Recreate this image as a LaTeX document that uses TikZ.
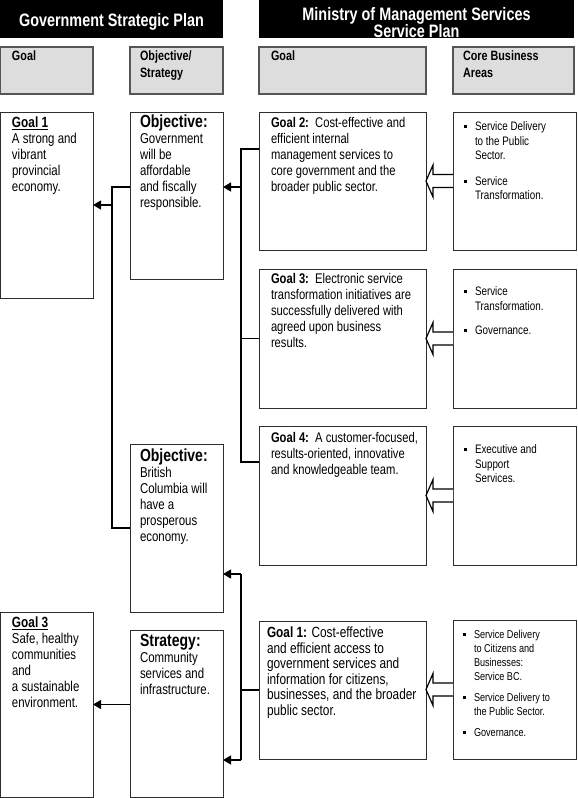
\documentclass[tikz,border=0pt]{standalone}
\usepackage{fontspec}
\setmainfont{Liberation Sans}[FakeStretch=0.8]
\usetikzlibrary{calc,arrows.meta}
\definecolor{hfill}{RGB}{221,221,221}
\definecolor{hline}{RGB}{85,85,85}
\definecolor{bline}{RGB}{45,45,45}
\newcommand\fsz[2]{\fontsize{#1}{#2}\selectfont}
\newcommand\bul{\makebox[11pt][l]{\rule[2.6pt]{3pt}{3pt}}}
\newcommand\ind{\hspace*{11pt}}
\newcommand\blockarr[2]{\draw[blk] let \p1=(#1), \p2=(#2) in
  (\x1,\y1+6.5pt) -- (\x2+7pt,\y1+6.5pt) -- (\x2+7pt,\y1+16pt) -- (\x2,\y1)
  -- (\x2+7pt,\y1-16pt) -- (\x2+7pt,\y1-6.5pt) -- (\x1,\y1-6.5pt);}
\tikzset{
  bx/.style={draw=bline, line width=1pt, fill=white, anchor=north west, inner sep=0pt, outer sep=0pt},
  hbx/.style={draw=hline, line width=1.6pt, fill=hfill, anchor=north west, inner sep=0pt, outer sep=0pt},
  ttl/.style={fill=black, anchor=north west, inner sep=0pt, outer sep=0pt},
  ttxt/.style={text=white, inner sep=0pt, outer sep=0pt, align=center, font={\fsz{18}{16.5}\bfseries}},
  txt/.style={anchor=north west, inner sep=0pt, outer sep=0pt, align=left},
  htxt/.style={txt, font={\fsz{13.5}{17}\bfseries}},
  ltxt/.style={txt, font={\fsz{14.3}{16}}},
  gtxt/.style={txt, font={\fsz{14}{16}}},
  ctxt/.style={txt, font={\fsz{12.3}{14.5}}},
  conn/.style={line width=1.3pt},
  arr/.style={conn, -{Triangle[length=8pt,width=9pt]}},
  blk/.style={draw=black, line width=1.2pt, fill=white, line join=miter},
}
\begin{document}
\begin{tikzpicture}[x=1pt,y=-1pt]
\useasboundingbox (0,0) rectangle (578,798);
% title bars
\node[ttl, minimum width=223pt, minimum height=38pt] (tl) at (0,0) {};
\node[ttl, minimum width=315pt, minimum height=38pt] (tr) at (259,0) {};
\node[ttxt] (tlt) at ($(tl.center)+(0,2.5)$) {Government Strategic Plan};
\node[ttxt] (trt) at ($(tr.center)+(0,3.5)$) {Ministry of Management Services\\Service Plan};
% gray headers
\node[hbx, minimum width=93pt, minimum height=47pt] (h1) at (0,47) {};
\node[hbx, minimum width=93pt, minimum height=47pt] (h2) at (130,47) {};
\node[hbx, minimum width=167pt, minimum height=47pt] (h3) at (259,47) {};
\node[hbx, minimum width=121pt, minimum height=47pt] (h4) at (453,47) {};
\node[htxt] (h1t) at ($(h1.north west)+(12,4)$) {Goal};
\node[htxt] (h2t) at ($(h2.north west)+(10,4)$) {Objective/\\Strategy};
\node[htxt] (h3t) at ($(h3.north west)+(12,4)$) {Goal};
\node[htxt] (h4t) at ($(h4.north west)+(10,4)$) {Core Business\\Areas};
% left column
\node[bx, minimum width=93pt, minimum height=186pt] (lg1) at (0,112) {};
\node[bx, minimum width=93pt, minimum height=167pt] (ob1) at (130,112) {};
\node[bx, minimum width=93pt, minimum height=168pt] (ob2) at (130,444) {};
\node[bx, minimum width=93pt, minimum height=185pt] (lg3) at (0,612) {};
\node[bx, minimum width=93pt, minimum height=167pt] (st) at (130,630) {};
\node[ltxt] (lg1t) at ($(lg1.north west)+(12,5)$) {{\fsz{14.8}{16}\bfseries\underline{Goal 1}}\\A strong and\\vibrant\\provincial\\economy.};
\node[ltxt] (ob1t) at ($(ob1.north west)+(10,3)$) {{\fsz{17.5}{16}\bfseries Objective:}\\Government\\will be\\affordable\\and fiscally\\responsible.};
\node[ltxt] (ob2t) at ($(ob2.north west)+(10,5)$) {{\fsz{17.5}{16}\bfseries Objective:}\\British\\Columbia will\\have a\\prosperous\\economy.};
\node[ltxt] (lg3t) at ($(lg3.north west)+(12,5)$) {{\fsz{14.8}{16}\bfseries\underline{Goal 3}}\\Safe, healthy\\communities\\and\\a sustainable\\environment.};
\node[ltxt] (stt) at ($(st.north west)+(10,4)$) {{\fsz{17.5}{16}\bfseries Strategy:}\\Community\\services and\\infrastructure.};
% ministry goals
\node[bx, minimum width=167pt, minimum height=138pt] (mg2) at (259,112) {};
\node[bx, minimum width=167pt, minimum height=139pt] (mg3) at (259,269) {};
\node[bx, minimum width=167pt, minimum height=139pt] (mg4) at (259,426) {};
\node[bx, minimum width=167pt, minimum height=138pt] (mg1) at (259,621) {};
\node[gtxt] (mg2t) at ($(mg2.north west)+(12,5)$) {{\bfseries Goal 2:}~~Cost-effective and\\efficient internal\\management services to\\core government and the\\broader public sector.};
\node[gtxt] (mg3t) at ($(mg3.north west)+(12,4)$) {{\bfseries Goal 3:}~~Electronic service\\transformation initiatives are\\successfully delivered with\\agreed upon business\\results.};
\node[gtxt] (mg4t) at ($(mg4.north west)+(12,6)$) {{\bfseries Goal 4:}~~A customer-focused,\\results-oriented, innovative\\and knowledgeable team.};
\node[gtxt, font={\fsz{14.8}{15.5}}] (mg1t) at ($(mg1.north west)+(8,6)$) {{\bfseries Goal 1:} Cost-effective\\and efficient access to\\government services and\\information for citizens,\\businesses, and the broader\\public sector.};
% core business areas
\node[bx, minimum width=123pt, minimum height=138pt] (c1) at (453,112) {};
\node[bx, minimum width=123pt, minimum height=139pt] (c2) at (453,269) {};
\node[bx, minimum width=123pt, minimum height=139pt] (c3) at (453,426) {};
\node[bx, minimum width=123pt, minimum height=139pt] (c4) at (453,620) {};
\node[ctxt] (c1t) at ($(c1.north west)+(11,10)$) {\bul Service Delivery\\\ind to the Public\\\ind Sector.\\[11pt]\bul Service\\\ind Transformation.};
\node[ctxt] (c2t) at ($(c2.north west)+(11,18)$) {\bul Service\\\ind Transformation.\\[10pt]\bul Governance.};
\node[ctxt] (c3t) at ($(c3.north west)+(11,19)$) {\bul Executive and\\\ind Support\\\ind Services.};
\node[ctxt, font={\fsz{11.4}{14}}] (c4t) at ($(c4.north west)+(10,10)$) {\bul Service Delivery\\\ind to Citizens and\\\ind Businesses:\\\ind Service BC.\\[7pt]\bul Service Delivery to\\\ind the Public Sector.\\[7pt]\bul Governance.};
% block arrows
\blockarr{c1.west}{mg2.east}
\blockarr{c2.west}{mg3.east}
\blockarr{c3.west}{mg4.east}
\blockarr{c4.west}{mg1.east}
% connectors
\coordinate (L1) at (112,187);
\coordinate (L2) at (112,528);
\coordinate (R1) at (241,149);
\coordinate (R2) at (241,462);
\coordinate (R3) at (241,574);
\coordinate (R4) at (241,760);
\draw[conn] (ob1.west |- L1) -- (L1) -- (L2) -- (ob2.west |- L2);
\draw[arr] (L1 |- lg1.east) -- (lg1.east);
\draw[conn] (mg2.west |- R1) -- (R1) -- (R2) -- (mg4.west |- R2);
\draw[conn] (R1 |- mg3.west) -- (mg3.west);
\draw[arr] (R1 |- L1) -- (ob1.east |- L1);
\draw[conn] (R3) -- (R4);
\draw[arr] (R3) -- (ob2.east |- R3);
\draw[arr] (R4) -- (st.east |- R4);
\draw[conn] (R3 |- mg1.west) -- (mg1.west);
\draw[arr] (st.west |- lg3.east) -- (lg3.east);
\end{tikzpicture}
\end{document}
